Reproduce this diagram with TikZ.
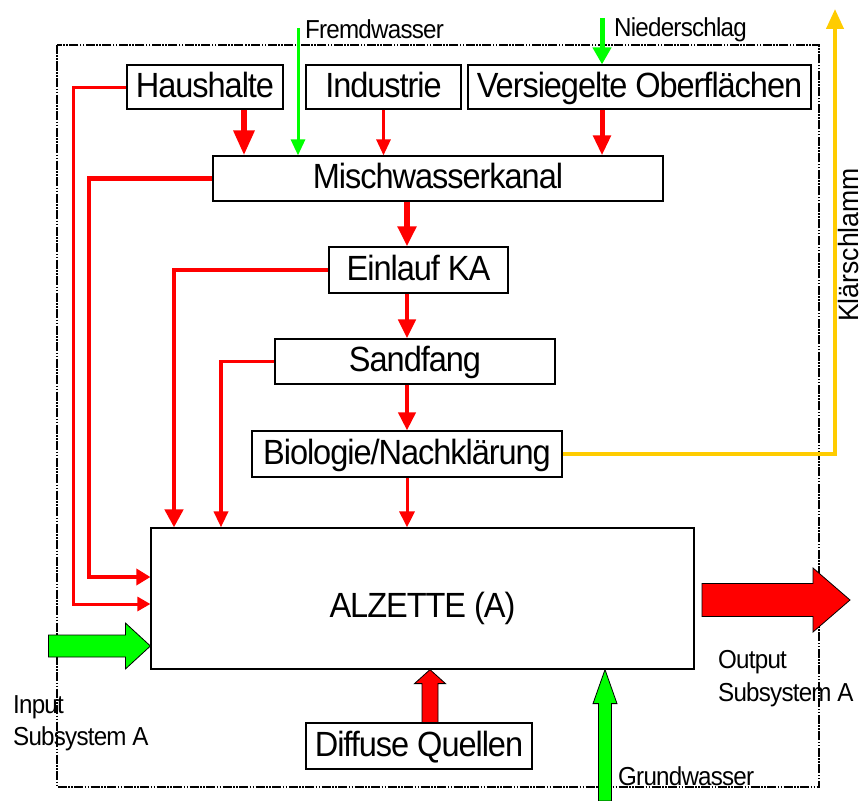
\documentclass[tikz,border=0pt]{standalone}
\usepackage{fontspec}
\setmainfont{Liberation Sans}[FakeStretch=0.93, LetterSpace=-3]
\newfontfamily\klfont{Liberation Sans}[FakeStretch=0.95]
\usetikzlibrary{arrows.meta,calc}
\definecolor{fred}{RGB}{255,0,0}
\definecolor{fgreen}{RGB}{0,255,0}
\definecolor{fyellow}{RGB}{255,204,0}
\begin{document}
\begin{tikzpicture}[x=1pt,y=-1pt,
  box/.style={draw=black, line width=1.2pt, inner sep=0pt, fill=white,
    text height=25pt, text depth=5pt,
    font=\fontsize{35}{40}\selectfont},
  lab/.style={inner sep=0pt, font=\fontsize{26}{30}\selectfont},
  rflow/.style={draw=fred, line width=#1},
  gflow/.style={draw=fgreen, line width=#1},
  blockarrow/.style={draw=black, line width=0.8pt, line join=miter},
  boundary/.style={draw=black, line width=1.3pt,
    dash pattern=on 9pt off 1.5pt on 1.5pt off 1.5pt on 1.5pt off 1.5pt}
]
\useasboundingbox (0,0) rectangle (864,800);
\fill[white] (0,0) rectangle (864,800);

% system boundary
\draw[boundary] (57,45) rectangle (819,787);

% boxes
\node[box, minimum width=156pt, minimum height=44pt] (haus) at (205,87) {Haushalte};
\node[box, minimum width=155pt, minimum height=44pt] (ind) at (383.5,87) {Industrie};
\node[box, minimum width=343pt, minimum height=44pt] (vers) at (639.5,87) {Versiegelte Oberflächen};
\node[box, minimum width=450pt, minimum height=45pt] (misch) at (438,178.5) {Mischwasserkanal};
\node[box, minimum width=179pt, minimum height=46pt] (einlauf) at (418.5,270) {Einlauf KA};
\node[box, minimum width=280pt, minimum height=45pt] (sand) at (415,361.5) {Sandfang};
\node[box, minimum width=310pt, minimum height=46pt] (bio) at (407,454) {Biologie/Nachklärung};
\node[box, minimum width=543pt, minimum height=141pt] (alz) at (422.5,598.5) {};
\node[font=\fontsize{35}{40}\selectfont, inner sep=0pt, text height=25pt, text depth=5pt] (alzt) at (422.5,607) {ALZETTE (A)};
\node[box, minimum width=226pt, minimum height=46pt] (diff) at (419,746) {Diffuse Quellen};

% helper coordinates
\coordinate (xh) at (244,0);
\coordinate (xm) at (407,0);
\coordinate (xv) at (602,0);
\coordinate (fw) at (298,28);
\coordinate (ns) at (602,18);
\coordinate (hl) at (73,604);
\coordinate (ml) at (89,577);
\coordinate (el) at (174,0);
\coordinate (sl) at (221,0);
\coordinate (kl) at (835,9);

% top inputs
\draw[rflow=6pt, -{Triangle[width=20pt,length=25pt]}] (haus.south -| xh) -- (misch.north -| xh);
\draw[gflow=3pt, -{Triangle[width=14pt,length=16pt]}] (fw) -- (misch.north -| fw);
\draw[rflow=3pt, -{Triangle[width=14pt,length=16pt]}] (ind.south) -- (misch.north -| ind.south);
\draw[gflow=5pt, -{Triangle[width=18pt,length=17pt]}] (ns) -- (vers.north -| ns);
\draw[rflow=5pt, -{Triangle[width=17pt,length=20pt]}] (vers.south -| xv) -- (misch.north -| xv);

% main chain
\draw[rflow=6pt, -{Triangle[width=18pt,length=20pt]}] (misch.south -| xm) -- (einlauf.north -| xm);
\draw[rflow=4.5pt, -{Triangle[width=17pt,length=19pt]}] (einlauf.south -| xm) -- (sand.north -| xm);
\draw[rflow=4pt, -{Triangle[width=17pt,length=18pt]}] (sand.south -| xm) -- (bio.north -| xm);
\draw[rflow=3pt, -{Triangle[width=15pt,length=16pt]}] (bio.south) -- (alz.north -| bio.south);

% bypasses
\draw[rflow=3pt, -{Triangle[width=14pt,length=13pt]}] (haus.west) -| (hl) -- (alz.west |- hl);
\draw[rflow=4.5pt, -{Triangle[width=16pt,length=14pt]}] (misch.west) -| (ml) -- (alz.west |- ml);
\draw[rflow=4.5pt, -{Triangle[width=18pt,length=18pt]}] (einlauf.west) -| (alz.north -| el);
\draw[rflow=3.5pt, -{Triangle[width=14pt,length=16pt]}] (sand.west) -| (alz.north -| sl);

% Klaerschlamm
\draw[draw=fyellow, line width=4pt, -{Triangle[width=17pt,length=20pt]}] (bio.east) -| (kl);

% block arrows
\coordinate (inTip) at (alz.west |- 0,646);
\draw[blockarrow, fill=fgreen] (inTip) -- ++(-25,-23) -- ++(0,12) -- ++(-77,0) -- ++(0,22) -- ++(77,0) -- ++(0,12) -- cycle;
\coordinate (outTail) at (702,600);
\draw[blockarrow, fill=fred] (outTail) ++(0,-16.5) -- ++(111,0) -- ++(0,-15.5) -- ++(37,32) -- ++(-37,32) -- ++(0,-15.5) -- ++(-111,0) -- cycle;
\coordinate (dTip) at (alz.south -| 430,0);
\draw[blockarrow, fill=fred] (dTip) -- ++(15.5,14) -- ++(-7.5,0) -- ($(diff.north -| dTip)+(8,0)$) -- ++(-16,0) -- ($(dTip)+(-8,14)$) -- ++(-7.5,0) -- cycle;
\coordinate (gTip) at (alz.south -| 605,0);
\draw[blockarrow, fill=fgreen] (gTip) -- ++(12,34) -- ++(-5.5,0) -- (611.5,801) -- (598.5,801) -- ($(gTip)+(-6.5,34)$) -- ++(-5.5,0) -- cycle;

% labels
\node[lab, anchor=base west] (fwl) at (305,38) {Fremdwasser};
\node[lab, anchor=base west] (nsl) at (614,37) {Niederschlag};
\node[lab, anchor=base west] (in1) at (13,713) {Input};
\node[lab, anchor=base west] (in2) at (13,745) {Subsystem A};
\node[lab, anchor=base west] (out1) at (718,668) {Output};
\node[lab, anchor=base west] (out2) at (718,701) {Subsystem A};
\node[lab, anchor=base west] (gwl) at (618,785) {Grundwasser};
\node[inner sep=0pt, font=\klfont\fontsize{28}{32}\selectfont, rotate=90, anchor=base] (kll) at (858,245) {Klärschlamm};
\end{tikzpicture}
\end{document}
